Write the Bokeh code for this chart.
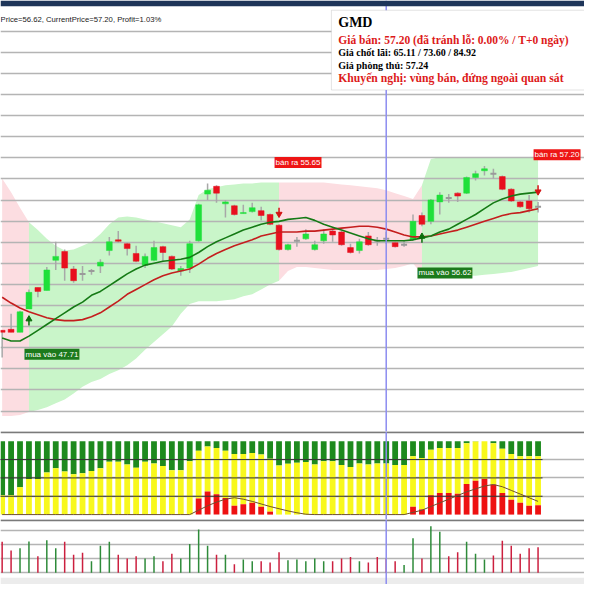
from bokeh.plotting import figure
from bokeh.layouts import column
from bokeh.models import Range1d, FixedTicker, Span, BoxAnnotation, Label, ColumnDataSource
from bokeh.embed import file_html
from bokeh.resources import INLINE

# ---------------- data ----------------
idx = list(range(61))
opens = [45.8, 45.9, 45.6, 48.0, 50.2, 49.9, 53.0, 53.9, 52.1, 51.6, 51.9, 52.4, 54.0, 55.1, 54.7, 53.7,
         52.5, 53.0, 54.4, 53.4, 51.9, 52.2, 55.0, 59.8, 60.6, 58.8, 58.6, 57.8, 58.0, 58.1, 57.7, 56.6,
         54.1, 55.0, 55.2, 54.1, 55.0, 56.0, 55.9, 54.3, 54.0, 55.5, 55.0, 55.2, 54.8, 54.6, 55.1, 57.6,
         57.0, 59.0, 59.4, 59.9, 59.9, 61.5, 62.2, 61.9, 61.6, 60.3, 59.0, 59.1, 58.5]
highs = [45.8, 47.5, 47.8, 50.0, 50.2, 52.3, 54.9, 54.1, 52.4, 52.4, 52.1, 53.1, 55.4, 56.0, 54.8, 54.5,
         53.7, 55.0, 54.5, 53.5, 52.4, 55.0, 58.8, 60.9, 60.7, 59.2, 58.7, 58.7, 58.9, 58.5, 57.8, 56.7,
         54.7, 55.4, 56.2, 55.0, 56.2, 56.2, 56.0, 54.7, 55.2, 55.9, 55.4, 55.9, 54.9, 55.0, 57.7, 57.9,
         59.3, 60.0, 59.8, 60.0, 61.6, 62.2, 62.7, 62.4, 61.7, 60.4, 59.1, 59.7, 59.0]
lows = [43.0, 45.6, 45.6, 48.0, 49.2, 49.9, 52.0, 50.9, 50.7, 50.9, 51.5, 51.7, 53.5, 54.8, 53.5, 52.8,
        52.2, 52.9, 52.9, 52.0, 51.4, 51.7, 54.9, 59.2, 58.9, 57.4, 57.6, 57.8, 57.9, 57.1, 56.6, 54.0,
        54.0, 54.4, 55.1, 54.0, 54.7, 54.9, 54.5, 53.7, 53.7, 54.5, 54.5, 54.7, 54.3, 54.4, 55.0, 56.5,
        56.7, 57.7, 58.9, 59.0, 59.8, 61.2, 61.7, 61.4, 60.2, 59.0, 58.4, 57.9, 57.9]
closes = [45.6, 45.6, 47.7, 49.7, 49.8, 52.0, 53.4, 52.2, 50.9, 51.6, 51.9, 52.8, 54.9, 54.95, 54.2, 52.9,
          53.4, 54.3, 53.8, 52.1, 52.15, 54.7, 58.7, 60.2, 59.9, 59.0, 57.7, 57.9, 58.4, 57.6, 56.7, 54.1,
          54.6, 55.0, 55.7, 54.6, 55.7, 55.6, 54.6, 53.8, 54.9, 54.6, 55.0, 55.2, 54.4, 54.6, 57.0, 56.7,
          59.2, 59.7, 59.4, 59.6, 61.5, 61.9, 62.4, 61.9, 60.3, 59.1, 58.5, 58.3, 58.5]

ma_fast = [45.0, 44.7, 44.7, 45.2, 45.8, 46.4, 47.0, 47.6, 48.2, 48.7, 49.4, 49.8, 50.4, 51.0, 51.6, 52.1,
           52.5, 52.7, 52.9, 53.0, 53.1, 53.3, 53.8, 54.4, 54.9, 55.3, 55.7, 56.1, 56.4, 56.7, 56.9, 57.0,
           57.2, 57.3, 57.4, 57.1, 56.7, 56.4, 56.1, 55.8, 55.5, 55.2, 55.0, 55.0, 55.0, 55.0, 55.1, 55.3,
           55.5, 55.9, 56.2, 56.7, 57.2, 57.7, 58.3, 58.9, 59.3, 59.6, 59.8, 59.9, 60.0]
ma_slow = [49.2, 48.6, 48.1, 47.7, 47.4, 47.1, 46.9, 46.8, 46.8, 46.9, 47.2, 47.6, 48.2, 48.8, 49.5, 50.0,
           50.5, 51.0, 51.4, 51.7, 51.9, 52.1, 52.6, 53.2, 53.7, 54.1, 54.5, 54.8, 55.1, 55.5, 55.7, 55.9,
           55.9, 55.9, 56.0, 56.0, 56.1, 56.2, 56.3, 56.4, 56.5, 56.5, 56.4, 56.2, 55.9, 55.6, 55.4, 55.4,
           55.5, 55.7, 55.9, 56.1, 56.4, 56.7, 57.0, 57.3, 57.6, 57.8, 57.9, 58.1, 58.3]

band_upper = [61.4, 60.0, 58.4, 56.9, 56.1, 55.2, 54.5, 54.0, 54.1, 54.5, 54.9, 55.7, 56.7, 57.4, 57.5, 57.4,
              57.2, 57.0, 56.8, 56.6, 56.4, 57.2, 59.7, 60.3, 60.5, 60.7, 60.8, 60.9, 60.9, 61.0, 61.0, 61.0,
              61.0, 61.0, 61.0, 61.0, 61.0, 60.9, 60.8, 60.7, 60.6, 60.5, 60.4, 60.2, 59.9, 59.6, 59.3, 60.7,
              63.4, 63.6, 63.6, 63.6, 63.6, 63.6, 63.6, 63.6, 63.6, 63.6, 63.6, 63.6, 63.6]
band_lower = [37.0, 37.0, 37.1, 37.4, 37.6, 37.9, 38.3, 38.7, 39.3, 40.0, 40.5, 40.8, 41.3, 41.7, 42.2, 42.9,
              43.8, 44.6, 45.4, 46.2, 47.5, 48.5, 48.8, 48.8, 48.8, 48.9, 49.0, 49.3, 49.5, 50.0, 50.5, 50.9,
              51.9, 52.3, 52.3, 52.2, 52.1, 52.0, 52.0, 52.0, 52.0, 52.0, 52.0, 52.1, 52.2, 52.4, 52.7, 51.5,
              51.4, 51.4, 51.4, 51.4, 51.4, 51.4, 51.5, 51.6, 51.7, 51.8, 52.0, 52.2, 52.4]
band_state = ["sell"] * 3 + ["buy"] * 28 + ["sell"] * 16 + ["buy"] * 14

sig_idx = [3, 31, 47, 60]
sig_type = ["buy", "sell", "buy", "sell"]
sig_text = ["mua vào 47.71", "bán ra 55.65", "mua vào 56.62", "bán ra 57.20"]

# indicator panel (percent): green from top down to ind_green, red from 0 up to ind_red, yellow between
ind_green = [26.2, 26.2, 37.3, 48.4, 48.4, 57.3, 63.1, 58.7, 55.1, 56.4, 59.6, 63.1, 72.0, 72.0, 68.4, 64.0,
             72.0, 69.8, 66.2, 60.4, 60.4, 72.9, 87.1, 92.9, 90.7, 87.1, 82.7, 82.7, 84.0, 81.8, 76.0, 67.1,
             69.3, 70.7, 71.6, 68.4, 72.9, 72.9, 67.6, 64.9, 69.8, 68.4, 69.8, 69.8, 67.6, 67.6, 79.6, 77.3,
             88.4, 90.7, 90.7, 90.7, 97.3, 99.6, 100.0, 97.3, 89.8, 82.7, 79.6, 79.6, 79.6]
ind_red = [0] * 22 + [21.8, 31.6, 27.6, 22.7, 12.0, 14.2, 16.0, 10.7, 4.0] + [0] * 15 + \
          [10.7, 7.1, 26.2, 29.3, 29.3, 28.4, 41.8, 46.2, 48.4, 40.9, 29.3, 20.4, 16.0, 12.0, 12.9]
ind_line = [0] * 22 + [6, 12, 17, 21, 23, 21, 18, 14.5, 11, 8, 5, 2.5, 0.5] + [0] * 11 + \
           [3, 6, 11, 16, 21, 26, 31, 35, 39, 41, 38, 33, 28, 23, 18]

# volume (thousand shares) and direction colour
volume = [1088, 782, 860, 1098, 578, 1146, 860, 1088, 636, 704, 408, 952, 1088, 636, 500, 578,
          500, 578, 408, 670, 500, 1010, 1520, 952, 636, 636, 306, 466, 408, 408, 364, 724,
          442, 466, 408, 500, 408, 408, 500, 554, 408, 364, 554, 500, 408, 272, 1214, 500,
          1632, 1438, 578, 724, 1088, 670, 466, 612, 1122, 952, 670, 860, 894]
vol_up = [0, 0, 1, 1, 0, 1, 1, 0, 0, 0, 1, 1, 1, 0, 0, 0, 1, 1, 0, 0, 1, 1, 1, 1, 0, 1, 0, 1, 1, 0, 0, 0,
          1, 1, 1, 1, 1, 0, 0, 0, 1, 0, 0, 0, 0, 1, 1, 0, 1, 1, 0, 0, 1, 1, 1, 0, 0, 0, 0, 0, 0]

cursor_idx = 43
title_text = "Price=56.62, CurrentPrice=57.20, Profit=1.03%"
info_lines = [
    ("GMD", "#000000", "14px"),
    ("Giá bán: 57.20 (đã tránh lỗ: 0.00% / T+0 ngày)", "#dd1a1a", "11.5px"),
    ("Giá chốt lãi: 65.11 / 73.60 / 84.92", "#000000", "10px"),
    ("Giá phòng thủ: 57.24", "#000000", "10px"),
    ("Khuyến nghị: vùng bán, đứng ngoài quan sát", "#dd1a1a", "11.7px"),
]

# ---------------- styles ----------------
W = 584
GREEN = "#1fe03a"
RED = "#e8101e"
GREY = "#9a9a9a"
xr = Range1d(-0.185, 65.2)


def base(h, yr):
    p = figure(width=W, height=h, x_range=xr, y_range=yr, output_backend="svg",
               toolbar_location=None, min_border=0, x_axis_location=None, y_axis_location=None)
    p.outline_line_color = None
    p.xgrid.visible = False
    return p


# ---------------- main price panel ----------------
p = base(431, Range1d(35.4, 79.7))
p.ygrid.ticker = FixedTicker(ticks=[round(76.53 - 2.168 * k, 3) for k in range(19)])
p.ygrid.grid_line_color = "#b4b4b4"
p.ygrid.grid_line_width = 1.5

# bands coloured by state
start = 0
for i in range(1, len(idx) + 1):
    if i == len(idx) or band_state[i] != band_state[start]:
        end = min(i, len(idx) - 1)
        col = "#c9f5c9" if band_state[start] == "buy" else "#fcdde1"
        p.varea(x=idx[start:end + 1], y1=band_lower[start:end + 1], y2=band_upper[start:end + 1],
                fill_color=col, level="image")
        start = i

src = ColumnDataSource(dict(x=idx, o=opens, h=highs, l=lows, c=closes))
p.segment(x0="x", y0="l", x1="x", y1="h", source=src, line_color="#a8a8a8", line_width=1.5)

up = [i for i in idx if closes[i] > opens[i]]
dn = [i for i in idx if closes[i] < opens[i]]
dj = [i for i in idx if closes[i] == opens[i]]
p.vbar(x=up, bottom=[opens[i] for i in up], top=[closes[i] for i in up], width=0.65,
       fill_color=GREEN, line_color=GREEN, line_width=0.5)
p.vbar(x=dn, bottom=[closes[i] for i in dn], top=[opens[i] for i in dn], width=0.65,
       fill_color=RED, line_color=RED, line_width=0.5)
p.scatter(x=dj, y=[closes[i] for i in dj], marker="dash", size=6, line_color=GREY, line_width=2)

p.line(idx, ma_slow, line_color="#c41e1e", line_width=1.6)
p.line(idx, ma_fast, line_color="#157a15", line_width=1.6)

# signal arrows
for i, t in zip(sig_idx, sig_type):
    if t == "buy":
        tip = lows[i] - 0.8
        p.segment(x0=[i], y0=[tip - 0.9], x1=[i], y1=[tip - 0.3], line_color="#0b6e0b", line_width=1.5)
        p.scatter(x=[i], y=[tip - 0.25], marker="triangle", size=6, fill_color="#0b6e0b", line_color="#0b6e0b")
    else:
        tip = highs[i] + 0.8
        p.segment(x0=[i], y0=[tip + 0.9], x1=[i], y1=[tip + 0.3], line_color="#d41414", line_width=1.5)
        p.scatter(x=[i], y=[tip + 0.25], marker="inverted_triangle", size=6, fill_color="#d41414",
                  line_color="#d41414")

sig_label_y = [43.35, 63.05, 51.7, 63.85]
for i, t, txt, ly in zip(sig_idx, sig_type, sig_text, sig_label_y):
    p.add_layout(Label(x=i - 0.5, y=ly, text=txt, text_color="white", text_font="Liberation Sans",
                       text_font_size="8px", text_baseline="middle", text_align="left",
                       background_fill_color="#1c7a1c" if t == "buy" else "#ee1515",
                       padding=1))

p.add_layout(Span(location=cursor_idx, dimension="height", line_color="#8c8cf0", line_width=1.5))
p.add_layout(BoxAnnotation(bottom=79.1, fill_color="#1e3559", fill_alpha=1, line_alpha=0))
p.add_layout(Label(x=-0.185, y=77.72, text=title_text, text_font="Liberation Sans",
                   text_font_size="7.7px", text_color="#222222", text_baseline="middle"))

# info box
p.add_layout(BoxAnnotation(left=36.86, bottom=70.5, top=78.7, fill_color="white", fill_alpha=1,
                           line_color="#a0a0a0", line_width=1))
info_y = [77.45, 75.6, 74.37, 73.03, 71.7]
for (txt, colr, fs), yy in zip(info_lines, info_y):
    p.add_layout(Label(x=37.63, y=yy, text=txt, text_color=colr, text_font="Liberation Serif",
                       text_font_style="bold", text_font_size=fs, text_baseline="middle"))

# ---------------- indicator panel ----------------
p2 = base(88, Range1d(-6.7, 113.3))
p2.ygrid.ticker = FixedTicker(ticks=[25, 50, 75])
p2.ygrid.grid_line_color = "#b4b4b4"
p2.ygrid.grid_line_width = 1.5
p2.vbar(x=idx, bottom=ind_green, top=[100] * len(idx), width=0.65, fill_color="#1e8a1e", line_color=None)
p2.vbar(x=idx, bottom=ind_red, top=ind_green, width=0.65, fill_color="#f8f81c", line_color=None)
p2.vbar(x=idx, bottom=[0] * len(idx), top=ind_red, width=0.65, fill_color="#ee1111", line_color=None)
for lvl in [25, 50, 75]:
    p2.line([idx[0] - 0.5, idx[-1] + 0.5], [lvl, lvl], line_color="#333333", line_width=1)
p2.line(idx, ind_line, line_color="#6e5030", line_width=1)
p2.add_layout(Span(location=112.3, dimension="width", line_color="#7a7a7a", line_width=2))
p2.add_layout(Span(location=cursor_idx, dimension="height", line_color="#8c8cf0", line_width=1.5))

# ---------------- volume panel ----------------
p3 = base(65, Range1d(-408, 1870))
p3.ygrid.ticker = FixedTicker(ticks=[0, 500, 1000, 1500])
p3.ygrid.grid_line_color = "#b4b4b4"
p3.ygrid.grid_line_width = 1.5
p3.segment(x0=idx, y0=[0] * len(idx), x1=idx, y1=volume,
           line_color=["#2e8b3a" if u else "#cc1f3f" for u in vol_up], line_width=1.5)
p3.add_layout(BoxAnnotation(top=-170, fill_color="#ececec", fill_alpha=1, line_alpha=0))
p3.add_layout(Span(location=1845, dimension="width", line_color="#7a7a7a", line_width=2))
p3.add_layout(Span(location=cursor_idx, dimension="height", line_color="#8c8cf0", line_width=1.5))

layout = column(p, p2, p3, spacing=0)
open("out.html", "w").write(file_html(layout, INLINE))
